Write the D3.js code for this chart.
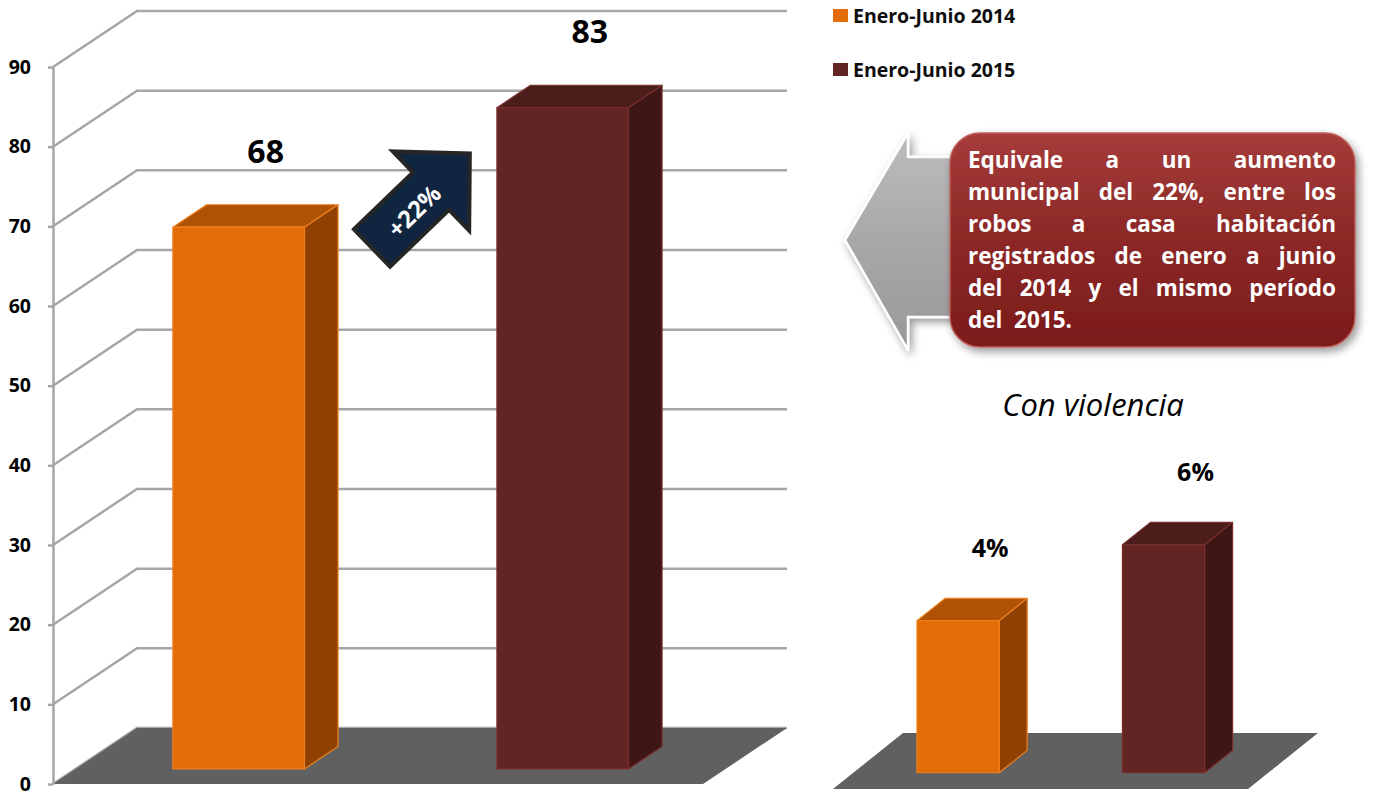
<!DOCTYPE html>
<meta charset="utf-8">
<style>
body { margin: 0; background: #fff; }
svg text { font-family: "Open Sans", Lato, sans-serif; }
.grid { fill: none; stroke: #A6A6A6; stroke-width: 2.5; }
.axis path, .axis line { stroke: #A6A6A6; stroke-width: 2.5; }
.axis text { font-size: 19.5px; font-weight: bold; fill: #000; }
</style>
<body>
<svg id="chart" width="1377" height="794"></svg>

<script src="https://d3js.org/d3.v7.min.js"></script>
<script>

// data
var series = ["Enero-Junio 2014", "Enero-Junio 2015"];
var totals = [68, 83];
var totalLabels = ["68", "83"];
var violence = [4, 6];
var violenceLabels = ["4%", "6%"];
var yTicks = [0, 10, 20, 30, 40, 50, 60, 70, 80, 90];
var growthLabel = "+22%";
var subTitle = "Con violencia";
var calloutLines = [
  "Equivale a un aumento",
  "municipal del 22%, entre los",
  "robos a casa habitación",
  "registrados de enero a junio",
  "del 2014 y el mismo período",
  "del  2015."
];

var colors = [
  {front: "#E36C09", top: "#AF5206", side: "#8F4104", edge: "#F0801E"},
  {front: "#632523", top: "#4B1D1B", side: "#3E1616", edge: "#7A2F2C"}
];

var svg = d3.select("#chart");
var defs = svg.append("defs");

var shadow = defs.append("filter").attr("id", "shadow")
    .attr("x", "-20%").attr("y", "-20%").attr("width", "140%").attr("height", "140%");
shadow.append("feDropShadow").attr("dx", 3).attr("dy", 4)
    .attr("stdDeviation", 4).attr("flood-opacity", 0.4);

var gGrey = defs.append("linearGradient").attr("id", "grey")
    .attr("x1", 0).attr("y1", 0).attr("x2", 0).attr("y2", 1);
gGrey.append("stop").attr("offset", "0%").attr("stop-color", "#BDBDBD");
gGrey.append("stop").attr("offset", "50%").attr("stop-color", "#A8A8A8");
gGrey.append("stop").attr("offset", "100%").attr("stop-color", "#999999");

var gRed = defs.append("linearGradient").attr("id", "red")
    .attr("x1", 0).attr("y1", 0).attr("x2", 0).attr("y2", 1);
gRed.append("stop").attr("offset", "0%").attr("stop-color", "#A53C3A");
gRed.append("stop").attr("offset", "45%").attr("stop-color", "#8E2A28");
gRed.append("stop").attr("offset", "100%").attr("stop-color", "#7A1B19");

function proj(px, py, d, dep) {
  return [px + d * dep.dx, py + d * dep.dy];
}

function poly(g, pts, fill, stroke) {
  return g.append("polygon")
      .attr("points", pts.map(function(p) { return p.join(","); }).join(" "))
      .attr("fill", fill)
      .attr("stroke", stroke || "none")
      .attr("stroke-width", stroke ? 1.2 : 0)
      .attr("stroke-linejoin", "round");
}

// draw boxes for one chart
function bars3d(g, values, xs, ys, dep, d0, d1) {
  values.forEach(function(v, i) {
    var xl = xs(series[i]), xr = xl + xs.bandwidth();
    var yb = ys(0), yt = ys(v);
    var c = colors[i];
    poly(g, [proj(xl, yt, d0, dep), proj(xr, yt, d0, dep), proj(xr, yt, d1, dep), proj(xl, yt, d1, dep)], c.top, c.edge);
    poly(g, [proj(xr, yt, d0, dep), proj(xr, yt, d1, dep), proj(xr, yb, d1, dep), proj(xr, yb, d0, dep)], c.side, c.edge);
    poly(g, [proj(xl, yt, d0, dep), proj(xr, yt, d0, dep), proj(xr, yb, d0, dep), proj(xl, yb, d0, dep)], c.front, c.edge);
  });
}

// ---------- main chart ----------
var x = d3.scaleBand().domain(series).range([53, 703]).paddingInner(0.594).paddingOuter(0.30);
var y = d3.scaleLinear().domain([0, 90]).range([784, 67]);
var dep = {dx: 84, dy: -56};
var x0 = x.range()[0], x1 = x.range()[1];

var main = svg.append("g");

yTicks.forEach(function(v) {
  var a = proj(x0, y(v), 0, dep), b = proj(x0, y(v), 1, dep), c = proj(x1, y(v), 1, dep);
  main.append("path").attr("class", "grid")
      .attr("d", "M" + a + "L" + b + "L" + c);
});

poly(main, [proj(x0, y(0), 0, dep), proj(x1, y(0), 0, dep), proj(x1, y(0), 1, dep), proj(x0, y(0), 1, dep)], "#606060");

main.append("g")
    .attr("class", "axis")
    .attr("transform", "translate(" + x0 + ",0)")
    .call(d3.axisLeft(y).tickValues(yTicks).tickSize(5).tickSizeOuter(0).tickPadding(17));

bars3d(main, totals, x, y, dep, 0.27, 0.67);

main.selectAll(".total")
    .data(totals)
    .enter().append("text")
    .attr("class", "total")
    .attr("x", function(d, i) { return x(series[i]) + x.bandwidth() / 2 + 0.27 * dep.dx + 27; })
    .attr("y", function(d) { return y(d) + 0.27 * dep.dy - 77; })
    .attr("text-anchor", "middle")
    .attr("dominant-baseline", "central")
    .style("font-size", "32px").style("font-weight", "bold")
    .text(function(d, i) { return totalLabels[i]; });

// legend
var legend = svg.append("g").selectAll("g")
    .data(series)
    .enter().append("g")
    .attr("transform", function(d, i) { return "translate(833," + (9 + i * 54) + ")"; });
legend.append("rect").attr("width", 15).attr("height", 13)
    .attr("fill", function(d, i) { return colors[i].front; });
legend.append("text").attr("x", 20).attr("y", 6)
    .attr("dominant-baseline", "central")
    .style("font-size", "19.5px").style("font-weight", "bold").attr("fill", "#0D0D0D")
    .text(function(d) { return d; });

// growth arrow
var arrow = svg.append("g").attr("transform", "translate(372,248) rotate(-44)");
poly(arrow, [[0, -26], [82, -26], [82, -55], [136, 0], [82, 55], [82, 26], [0, 26]], "#10253F")
    .attr("stroke", "#262626").attr("stroke-width", 4).attr("stroke-linejoin", "miter");
arrow.append("text").attr("x", 56).attr("y", 2)
    .attr("text-anchor", "middle").attr("dominant-baseline", "central")
    .attr("fill", "#fff").style("font-size", "24px").style("font-weight", "bold")
    .text(growthLabel);

// ---------- callout ----------
var call = svg.append("g");
poly(call, [[845, 240], [908, 133], [908, 157], [1000, 157], [1000, 317], [908, 317], [908, 350]], "url(#grey)")
    .attr("stroke", "#fff").attr("stroke-width", 2.5).attr("filter", "url(#shadow)");
call.append("rect")
    .attr("x", 950).attr("y", 133).attr("width", 405).attr("height", 214).attr("rx", 30)
    .attr("fill", "url(#red)").attr("stroke", "#C0605C").attr("stroke-width", 1.5)
    .attr("filter", "url(#shadow)");

var tx0 = 968, tx1 = 1336, fs = "22.5px";
calloutLines.forEach(function(line, i) {
  var base = 160 + i * 32 + 8;
  var last = i === calloutLines.length - 1;
  if (last) {
    call.append("text").attr("x", tx0).attr("y", base)
        .attr("fill", "#fff").style("font-size", fs).style("font-weight", "bold")
        .style("white-space", "pre").text(line);
    return;
  }
  var words = line.split(/\s+/);
  var nodes = words.map(function(w) {
    return call.append("text").attr("y", base)
        .attr("fill", "#fff").style("font-size", fs).style("font-weight", "bold").text(w);
  });
  var widths = nodes.map(function(n) { return n.node().getComputedTextLength(); });
  var gap = (tx1 - tx0 - d3.sum(widths)) / (words.length - 1);
  var cx = tx0;
  nodes.forEach(function(n, k) {
    n.attr("x", cx);
    cx += widths[k] + gap;
  });
});

// ---------- con violencia ----------
svg.append("text").attr("x", 1093).attr("y", 404)
    .attr("text-anchor", "middle").attr("dominant-baseline", "central")
    .style("font-size", "31px").style("font-style", "italic").attr("fill", "#000")
    .text(subTitle);

var x2 = d3.scaleBand().domain(series).range([833, 1248]).paddingInner(0.6).paddingOuter(0.31);
var y2 = d3.scaleLinear().domain([0, 6]).range([789, 561]);
var dep2 = {dx: 70, dy: -56};
var small = svg.append("g");

poly(small, [proj(833, y2(0), 0, dep2), proj(1248, y2(0), 0, dep2), proj(1248, y2(0), 1, dep2), proj(833, y2(0), 1, dep2)], "#606060");
bars3d(small, violence, x2, y2, dep2, 0.29, 0.69);

small.selectAll(".pct")
    .data(violence)
    .enter().append("text")
    .attr("x", function(d, i) { return x2(series[i]) + x2.bandwidth() / 2 + 0.29 * dep2.dx + 32; })
    .attr("y", function(d) { return y2(d) + 0.29 * dep2.dy - 74; })
    .attr("text-anchor", "middle").attr("dominant-baseline", "central")
    .style("font-size", "25px").style("font-weight", "bold")
    .text(function(d, i) { return violenceLabels[i]; });

</script>
</body>
